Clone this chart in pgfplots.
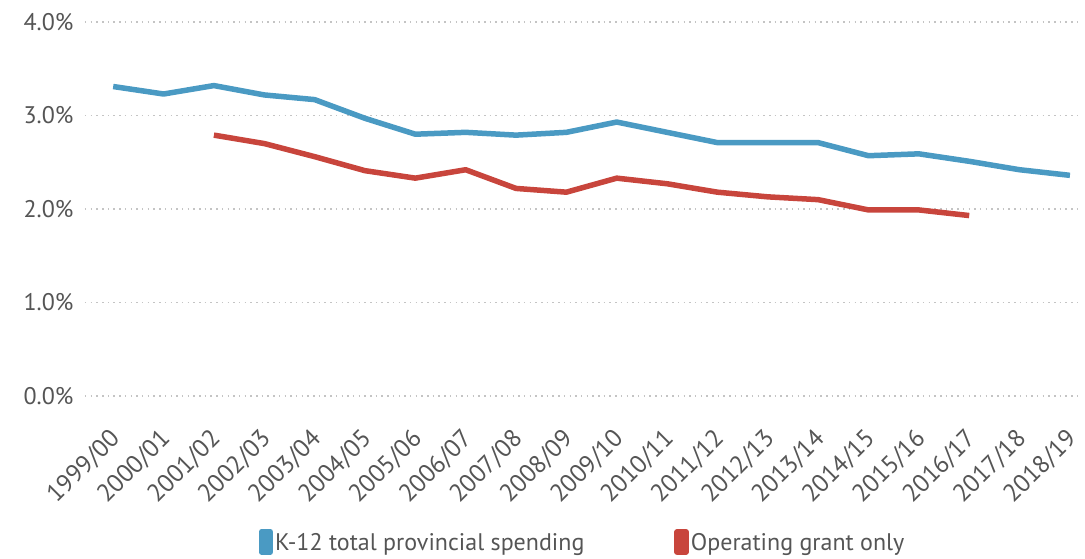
\documentclass[border=0pt]{standalone}
\usepackage{pgfplots}
\pgfplotsset{compat=1.18}
\usepackage{fontspec}
\setmainfont{PT Sans}
\definecolor{k12blue}{HTML}{4A9AC3}
\definecolor{grantred}{HTML}{C8453C}
\definecolor{labelgray}{HTML}{555555}
\newcommand{\chartfont}{\fontsize{24}{28}\selectfont}
\begin{document}
\begin{tikzpicture}
\begin{axis}[
    scale only axis,
    width=995pt, height=374pt,
    xmin=-0.56, xmax=19.2,
    ymin=0, ymax=4,
    axis line style={draw=none},
    tick style={draw=none},
    ytick={0,1,2,3,4},
    yticklabels={0.0\%,1.0\%,2.0\%,3.0\%,4.0\%},
    xtick={0,...,19},
    xticklabels={1999/00,2000/01,2001/02,2002/03,2003/04,2004/05,2005/06,2006/07,2007/08,2008/09,2009/10,2010/11,2011/12,2012/13,2013/14,2014/15,2015/16,2016/17,2017/18,2018/19},
    ticklabel style={font=\chartfont, text=labelgray},
    yticklabel style={xshift=-8pt},
    xticklabel style={font=\fontsize{25}{29}\selectfont, xshift=-5pt, yshift=-31pt,
        rotate=45, anchor=north east, inner sep=0pt},
    ymajorgrids,
    grid style={labelgray!35, line width=1.5pt, dash pattern=on 1.5pt off 4.2pt},
    clip=false,
    legend columns=2,
    legend cell align=left,
    legend style={draw=none, fill=none, at={(0.5,-0.39)}, anchor=center,
        font=\chartfont, text=labelgray,
        /tikz/every even column/.append style={column sep=88pt}},
]
\addplot[k12blue, line width=5.5pt, line join=round,
    legend image code/.code={\fill[k12blue] (1pt,-9pt) rectangle (10pt,11pt);}]
    coordinates {
    (0,3.31) (1,3.23) (2,3.32) (3,3.22) (4,3.17) (5,2.97) (6,2.80) (7,2.82)
    (8,2.79) (9,2.82) (10,2.93) (11,2.82) (12,2.71) (13,2.71) (14,2.71)
    (15,2.57) (16,2.59) (17,2.51) (18,2.42) (19,2.36)
};
\addlegendentry{K-12 total provincial spending}
\addplot[grantred, line width=5.5pt, line join=round,
    legend image code/.code={\fill[grantred] (1pt,-9pt) rectangle (10pt,11pt);}]
    coordinates {
    (2,2.79) (3,2.70) (4,2.56) (5,2.41) (6,2.33) (7,2.42) (8,2.22) (9,2.18)
    (10,2.33) (11,2.27) (12,2.18) (13,2.13) (14,2.10) (15,1.99) (16,1.99)
    (17,1.93)
};
\addlegendentry{Operating grant only}
\end{axis}
\pgfresetboundingbox
\path[use as bounding box] (-85pt,-162pt) rectangle (1000pt,396pt);
\end{tikzpicture}
\end{document}
